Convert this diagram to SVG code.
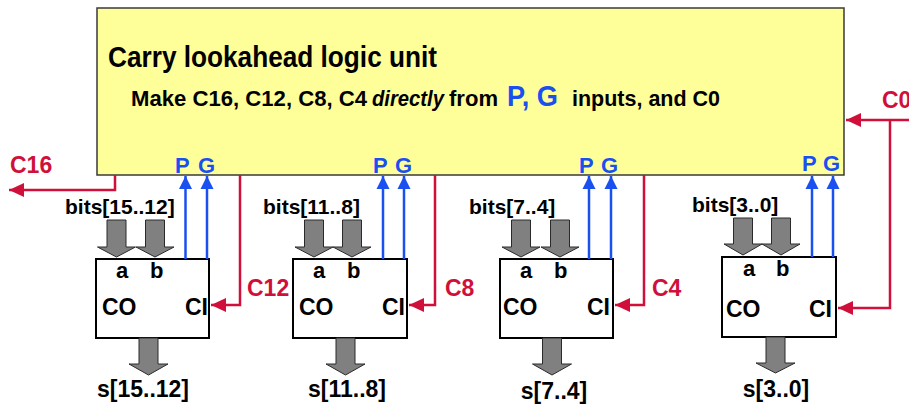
<svg xmlns="http://www.w3.org/2000/svg" width="909" height="405" viewBox="0 0 909 405">
<style>
text{font-family:"Liberation Sans",Arial,sans-serif;font-weight:bold;}
.red{fill:#D0103A;font-size:23px;}
.blue{fill:#1A4FF0;font-size:22px;}
.lbl{font-size:21px;}
.ab{font-size:22px;}
.cc{font-size:23px;}
.sum{font-size:23px;text-anchor:middle;}
.box{fill:#fff;stroke:#000;stroke-width:2;}
.garrow{fill:#808080;stroke:#2a2a2a;stroke-width:1;}
.rl{fill:none;stroke:#D0103A;stroke-width:2.5;}
.bl{fill:none;stroke:#1A4FF0;stroke-width:2.5;}
</style>
<defs>
<marker id="ah-red" markerUnits="userSpaceOnUse" markerWidth="16" markerHeight="16" viewBox="0 0 16 16" refX="15" refY="8" orient="auto">
<path d="M0,1 L15,8 L0,15 Z" fill="#D0103A"/>
</marker>
<marker id="ah-blue" markerUnits="userSpaceOnUse" markerWidth="14" markerHeight="14" viewBox="0 0 14 14" refX="13" refY="7" orient="auto">
<path d="M0,0.5 L13,7 L0,13.5 Z" fill="#1A4FF0"/>
</marker>
</defs>

<g id="cla">
<rect x="97" y="8" width="747" height="167" fill="#FFFF99" stroke="#3a3a3a" stroke-width="1.5"/>
<text x="108" y="67" font-size="29" textLength="329" lengthAdjust="spacingAndGlyphs">Carry lookahead logic unit</text>
<text y="106" font-size="22"><tspan x="131" textLength="236" lengthAdjust="spacingAndGlyphs">Make C16, C12, C8, C4</tspan><tspan x="372" font-style="italic" textLength="72" lengthAdjust="spacingAndGlyphs">directly</tspan><tspan x="449" textLength="49" lengthAdjust="spacingAndGlyphs">from</tspan><tspan x="507" fill="#1A4FF0" font-size="30" textLength="51" lengthAdjust="spacingAndGlyphs">P, G</tspan><tspan x="572" textLength="148" lengthAdjust="spacingAndGlyphs">inputs, and C0</tspan></text>
<text class="blue" x="175" y="173">P</text><text class="blue" x="198" y="173">G</text>
<text class="blue" x="373" y="173">P</text><text class="blue" x="395" y="173">G</text>
<text class="blue" x="579" y="173">P</text><text class="blue" x="601" y="173">G</text>
<text class="blue" x="802" y="171">P</text><text class="blue" x="823" y="171">G</text>
</g>

<g id="adder3">
<text class="lbl" x="65" y="214">bits[15..12]</text>
<path class="garrow" d="M107,220 H126 V247 H135.5 L116.5,257 L97.5,247 H107 Z"/>
<path class="garrow" d="M145.5,220 H164.5 V247 H174 L155,257 L136,247 H145.5 Z"/>
<rect class="box" x="96" y="259" width="113" height="79"/>
<text class="ab" x="116" y="278">a</text><text class="ab" x="150" y="278">b</text>
<text class="cc" x="102" y="315">CO</text><text class="cc" x="208" y="315" text-anchor="end">CI</text>
<path class="garrow" d="M139,338 H158 V364 H168 L148.5,375 L129,364 H139 Z"/>
<text class="sum" x="143" y="397">s[15..12]</text>
</g>

<g id="adder2">
<text class="lbl" x="263" y="214">bits[11..8]</text>
<path class="garrow" d="M304.5,220 H323.5 V247 H333 L314,257 L295,247 H304.5 Z"/>
<path class="garrow" d="M342.5,220 H361.5 V247 H371 L352,257 L333,247 H342.5 Z"/>
<rect class="box" x="293" y="259" width="114" height="79"/>
<text class="ab" x="313" y="278">a</text><text class="ab" x="347" y="278">b</text>
<text class="cc" x="299" y="315">CO</text><text class="cc" x="405" y="315" text-anchor="end">CI</text>
<path class="garrow" d="M336,338 H355 V364 H365 L345.5,375 L326,364 H336 Z"/>
<text class="sum" x="347" y="397">s[11..8]</text>
</g>

<g id="adder1">
<text class="lbl" x="469" y="214">bits[7..4]</text>
<path class="garrow" d="M511.5,220 H530.5 V247 H540 L521,257 L502,247 H511.5 Z"/>
<path class="garrow" d="M550.5,220 H569.5 V247 H579 L560,257 L541,247 H550.5 Z"/>
<rect class="box" x="500" y="259" width="113" height="79"/>
<text class="ab" x="520" y="278">a</text><text class="ab" x="554" y="278">b</text>
<text class="cc" x="503" y="315">CO</text><text class="cc" x="610" y="315" text-anchor="end">CI</text>
<path class="garrow" d="M542.5,338 H561.5 V364 H571.5 L552,375 L532.5,364 H542.5 Z"/>
<text class="sum" x="554" y="399">s[7..4]</text>
</g>

<g id="adder0">
<text class="lbl" x="692" y="212">bits[3..0]</text>
<path class="garrow" d="M733.5,218 H752.5 V244 H762 L743,255 L724,244 H733.5 Z"/>
<path class="garrow" d="M771.5,218 H790.5 V244 H800 L781,255 L762,244 H771.5 Z"/>
<rect class="box" x="722" y="257" width="114" height="80"/>
<text class="ab" x="743" y="276">a</text><text class="ab" x="776" y="276">b</text>
<text class="cc" x="726" y="317">CO</text><text class="cc" x="832" y="317" text-anchor="end">CI</text>
<path class="garrow" d="M766,337 H785 V363 H795 L775.5,373 L756,363 H766 Z"/>
<text class="sum" x="776" y="397">s[3..0]</text>
</g>

<g id="connectors">
<path class="bl" d="M185.5,259 V176" marker-end="url(#ah-blue)"/>
<path class="bl" d="M207,259 V176" marker-end="url(#ah-blue)"/>
<path class="bl" d="M383,259 V176" marker-end="url(#ah-blue)"/>
<path class="bl" d="M404,259 V176" marker-end="url(#ah-blue)"/>
<path class="bl" d="M589,259 V176" marker-end="url(#ah-blue)"/>
<path class="bl" d="M611,259 V176" marker-end="url(#ah-blue)"/>
<path class="bl" d="M812,257 V176" marker-end="url(#ah-blue)"/>
<path class="bl" d="M833,257 V176" marker-end="url(#ah-blue)"/>
<path class="rl" d="M115,175 V190 H9" marker-end="url(#ah-red)"/>
<path class="rl" d="M240,175 V305 H211" marker-end="url(#ah-red)"/>
<path class="rl" d="M435,175 V305 H409" marker-end="url(#ah-red)"/>
<path class="rl" d="M644,175 V305 H615" marker-end="url(#ah-red)"/>
<path class="rl" d="M909,120 H846" marker-end="url(#ah-red)"/>
<path class="rl" d="M890,120 V308 H838" marker-end="url(#ah-red)"/>
<text class="red" x="10" y="173">C16</text>
<text class="red" x="247" y="296">C12</text>
<text class="red" x="445" y="296">C8</text>
<text class="red" x="652" y="296">C4</text>
<text class="red" x="882" y="108">C0</text>
</g>
</svg>
